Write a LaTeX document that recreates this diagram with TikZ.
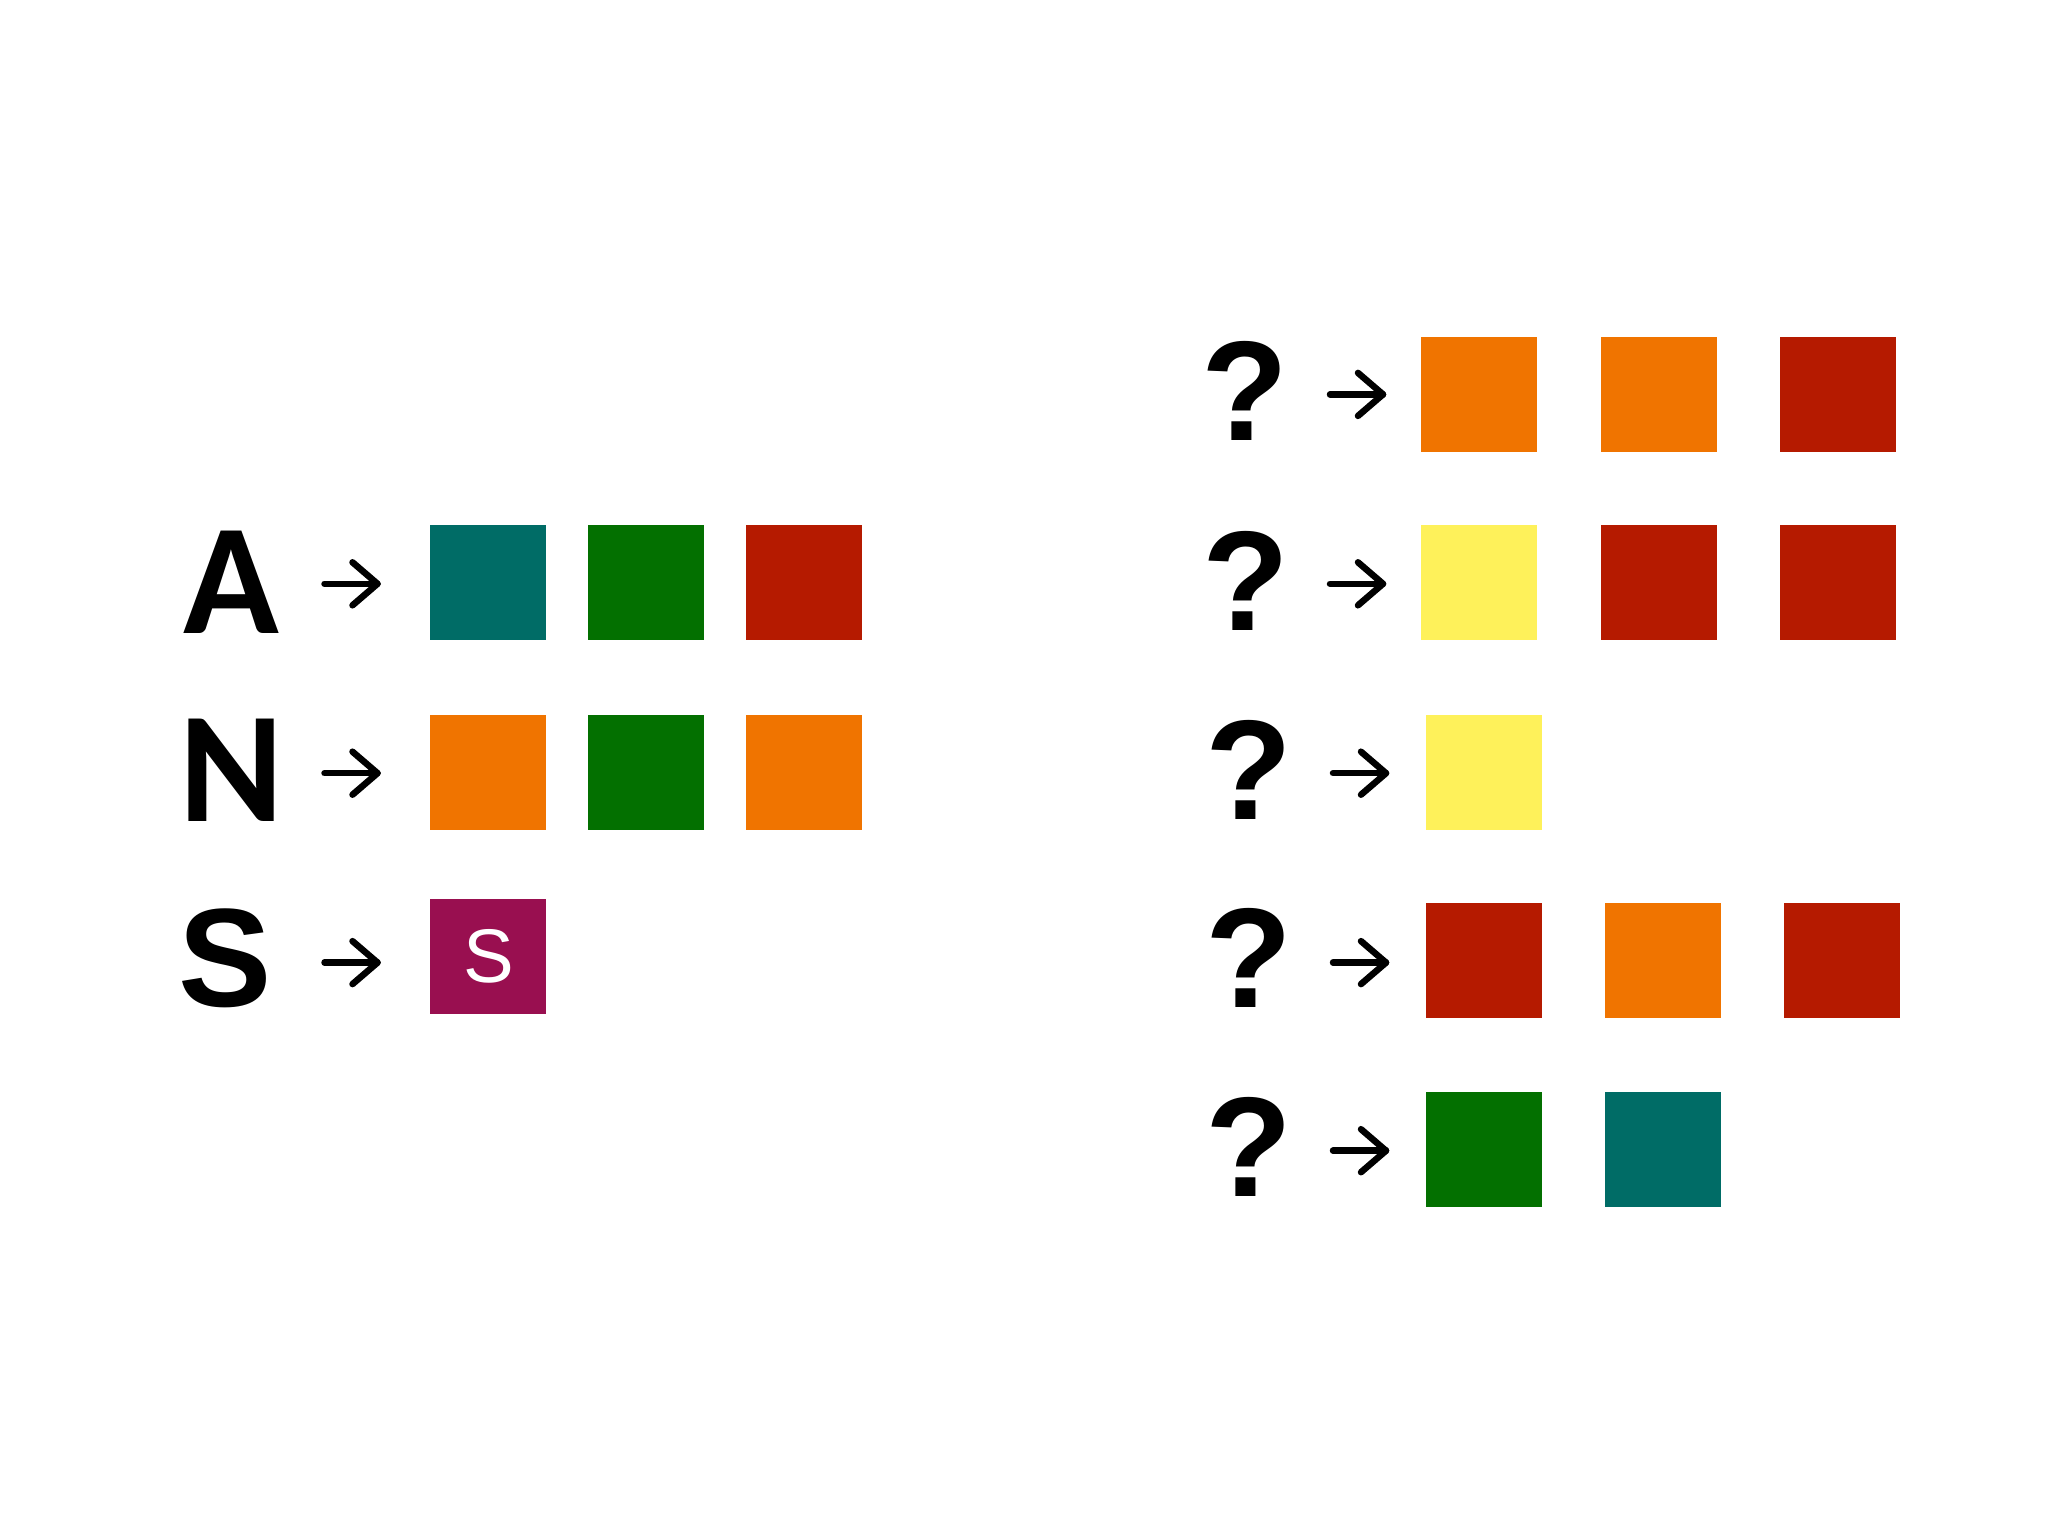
\documentclass[tikz,border=0pt]{standalone}
\usepackage{fontspec}
\usetikzlibrary{calc}
\setmainfont{Liberation Sans}
\newfontfamily\carl{Carlito}
\definecolor{cteal}{HTML}{006C66}
\definecolor{cgreen}{HTML}{037000}
\definecolor{cred}{HTML}{B51A00}
\definecolor{corange}{HTML}{F07400}
\definecolor{cyellow}{HTML}{FEF15A}
\definecolor{cmag}{HTML}{990F50}
\begin{document}
\begin{tikzpicture}[x=1pt,y=-1pt,
  sq/.style={rectangle,minimum width=116pt,minimum height=115pt,inner sep=0pt,draw=none},
  biglet/.style={inner sep=0pt,font=\carl\bfseries\fontsize{158}{160}\selectfont},
  qm/.style={inner sep=0pt,font=\bfseries\fontsize{142}{144}\selectfont},
  arr/.style={line width=6.5pt,line cap=round,line join=round}]
\useasboundingbox[fill=white] (0,0) rectangle (2048,1536);
\newcommand{\myarrow}[1]{%
  \draw[arr] ($(#1)+(-53,0)$) -- (#1);
  \draw[arr] ($(#1)+(-25,-21.5)$) -- (#1) -- ($(#1)+(-25,21.5)$);}
% left labels
\node[biglet] (la) at (231,582.5) {A};
\node[biglet] (ln) at (232,770) {N};
\node[inner sep=0pt,font=\bfseries\fontsize{140}{142}\selectfont] (ls) at (225,958) {S};
% left squares
\node[sq,fill=cteal] (a1) at (488,582.5) {};
\node[sq,fill=cgreen] (a2) at (646,582.5) {};
\node[sq,fill=cred] (a3) at (804,582.5) {};
\node[sq,fill=corange] (n1) at (488,772) {};
\node[sq,fill=cgreen] (n2) at (646,772) {};
\node[sq,fill=corange] (n3) at (804,772) {};
\node[sq,fill=cmag] (s1) at (488,956) {};
\node[inner sep=0pt,text=white,font=\fontsize{76}{78}\selectfont] (s1t) at (489,956) {S};
% left arrows
\coordinate (ta) at (377.5,583.8);
\coordinate (tn) at (377.5,773.2);
\coordinate (ts) at (377.5,962.6);
\myarrow{ta}\myarrow{tn}\myarrow{ts}
% right labels
\node[qm] (q1) at (1245,391) {?};
\node[qm] (q2) at (1246,580.6) {?};
\node[qm] (q3) at (1249,770) {?};
\node[qm] (q4) at (1249,958) {?};
\node[qm] (q5) at (1249,1147.4) {?};
% right arrows
\coordinate (t1) at (1383,394.4);
\coordinate (t2) at (1383,583.8);
\coordinate (t3) at (1386,773.2);
\coordinate (t4) at (1386,962.6);
\coordinate (t5) at (1386,1150.7);
\myarrow{t1}\myarrow{t2}\myarrow{t3}\myarrow{t4}\myarrow{t5}
% right squares
\node[sq,fill=corange] (r11) at (1479,394) {};
\node[sq,fill=corange] (r12) at (1659,394) {};
\node[sq,fill=cred] (r13) at (1838,394) {};
\node[sq,fill=cyellow] (r21) at (1479,582.5) {};
\node[sq,fill=cred] (r22) at (1659,582.5) {};
\node[sq,fill=cred] (r23) at (1838,582.5) {};
\node[sq,fill=cyellow] (r31) at (1484,772) {};
\node[sq,fill=cred] (r41) at (1484,960) {};
\node[sq,fill=corange] (r42) at (1663,960) {};
\node[sq,fill=cred] (r43) at (1842,960) {};
\node[sq,fill=cgreen] (r51) at (1484,1149.4) {};
\node[sq,fill=cteal] (r52) at (1663,1149.4) {};
\end{tikzpicture}
\end{document}
